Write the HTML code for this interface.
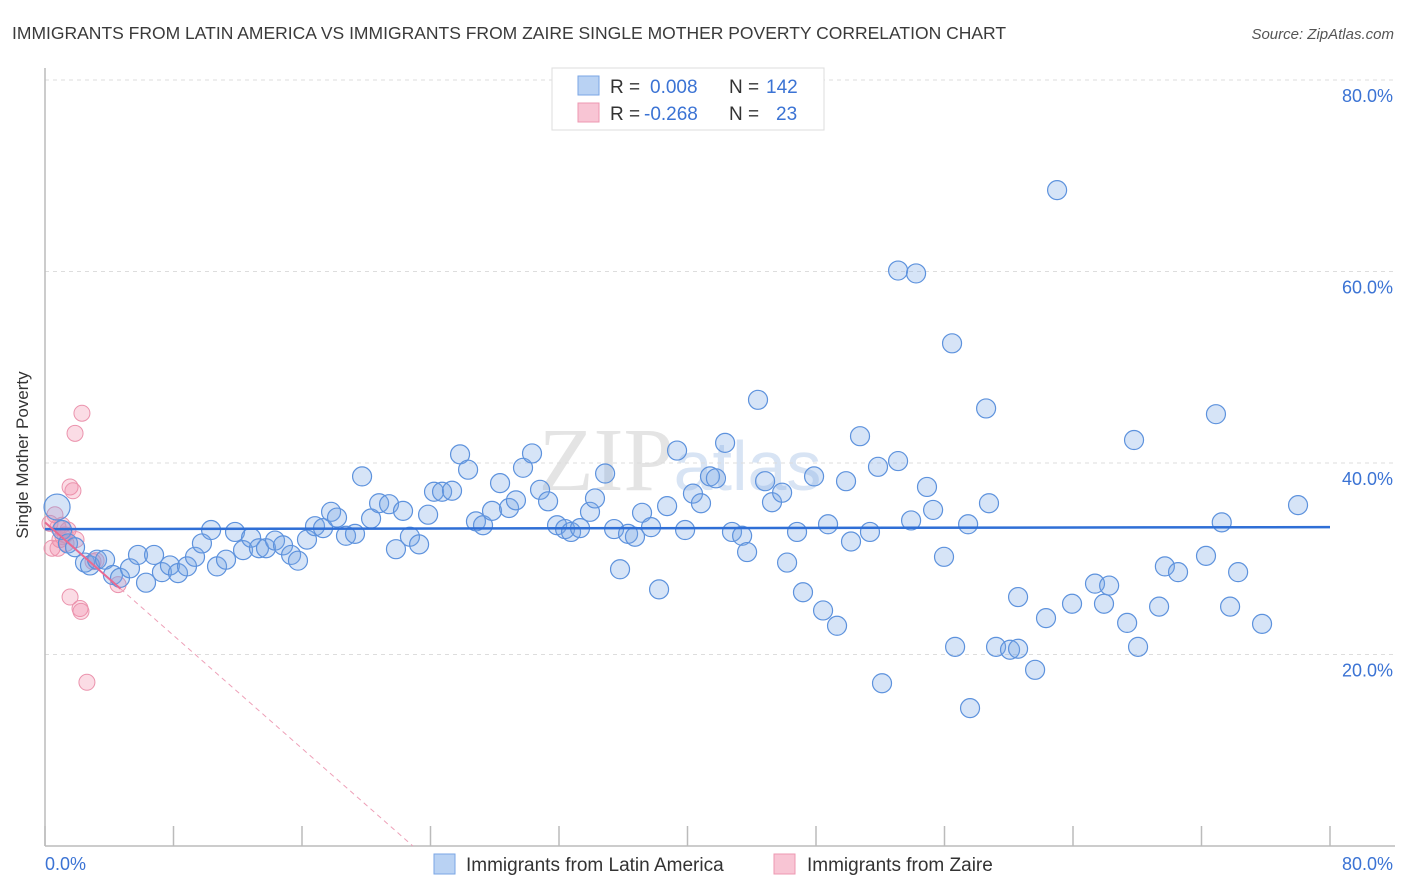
<!DOCTYPE html>
<html><head><meta charset="utf-8"><style>
body{margin:0;background:#fff;font-family:"Liberation Sans",sans-serif;}
#wrap{position:relative;width:1406px;height:892px;overflow:hidden;}
</style></head><body>
<div id="wrap">
<svg id="svg" width="1406" height="892" xmlns="http://www.w3.org/2000/svg">
<text x="12" y="39" font-size="17.5" fill="#3a3a3a">IMMIGRANTS FROM LATIN AMERICA VS IMMIGRANTS FROM ZAIRE SINGLE MOTHER POVERTY CORRELATION CHART</text>
<text x="1394" y="39" font-size="15" fill="#555" font-style="italic" text-anchor="end">Source: ZipAtlas.com</text>
<text x="680" y="490" font-size="90" fill="#e4e4e4" text-anchor="middle" font-family="Liberation Serif,serif">ZIP<tspan fill="#d8e4f4" font-family="Liberation Sans,sans-serif" font-size="70">atlas</tspan></text>
<g id="grid"></g>
<line x1="45" y1="68" x2="45" y2="846" stroke="#bbb" stroke-width="1.5"/>
<line x1="45" y1="846" x2="1395" y2="846" stroke="#bbb" stroke-width="1.5"/>
<g id="ticks"></g>
<text x="28" y="455" font-size="17" fill="#333" text-anchor="middle" transform="rotate(-90 28 455)">Single Mother Poverty</text>
<text x="45" y="870" font-size="18" fill="#3b73d4">0.0%</text>
<text x="1393" y="870" font-size="18" fill="#3b73d4" text-anchor="end">80.0%</text>
<g id="pink"></g><g id="blue"></g><g id="trend"></g>
<g>
<rect x="552" y="68" width="272" height="62" fill="#fff" stroke="#ddd"/>
<rect x="578" y="76" width="21" height="19" fill="#b9d2f3" stroke="#7aa6e4"/>
<rect x="578" y="103" width="21" height="19" fill="#f8c5d4" stroke="#ee98b2"/>
<text x="610" y="93" font-size="19" fill="#333">R = <tspan fill="#3b73d4" x="650">0.008</tspan><tspan x="729">N = </tspan><tspan fill="#3b73d4" x="766">142</tspan></text>
<text x="610" y="120" font-size="19" fill="#333">R = <tspan fill="#3b73d4" x="644">-0.268</tspan><tspan x="729">N = </tspan><tspan fill="#3b73d4" x="776">23</tspan></text>
</g>
<g>
<rect x="434" y="854" width="21" height="20" fill="#b9d2f3" stroke="#7aa6e4"/>
<text x="466" y="871" font-size="19" fill="#333">Immigrants from Latin America</text></g>
<g>
<rect x="774" y="854" width="21" height="20" fill="#f8c5d4" stroke="#ee98b2"/>
<text x="807" y="871" font-size="19" fill="#333">Immigrants from Zaire</text></g>
</svg>
</div>
<script>
const blueX=[0.75,1.06,1.43,1.87,2.49,2.80,3.24,3.74,4.23,4.67,5.29,5.79,6.29,6.79,7.28,7.78,8.28,8.84,9.34,9.77,10.34,10.71,11.27,11.83,12.33,12.83,13.32,13.76,14.32,14.82,15.32,15.75,16.31,16.81,17.31,17.81,18.18,18.74,19.30,19.74,20.30,20.80,21.42,21.85,22.29,22.72,23.29,23.85,24.22,24.72,25.34,25.84,26.34,26.83,27.27,27.83,28.33,28.89,29.32,29.76,30.32,30.82,31.32,31.88,32.38,32.75,33.31,33.93,34.24,34.87,35.43,35.80,36.30,36.73,37.17,37.73,38.23,38.73,39.35,39.85,40.34,40.84,41.40,41.77,42.34,42.77,43.40,43.71,44.39,44.83,45.26,45.89,46.20,46.82,47.19,47.88,48.44,48.75,49.31,49.87,50.18,50.74,51.36,51.86,52.11,53.11,53.11,53.92,54.23,54.91,55.29,55.97,56.47,56.66,57.47,57.59,58.59,58.77,59.21,60.08,60.58,60.58,61.64,62.32,63.01,63.94,65.37,65.93,66.25,67.37,67.80,68.05,69.36,69.72,70.54,72.28,72.90,73.26,73.78,74.28,75.77,78.01];
const blueY=[35.4,33.0,31.6,31.2,29.6,29.3,29.9,29.9,28.3,28.0,29.0,30.4,27.5,30.4,28.6,29.3,28.5,29.2,30.2,31.6,33.0,29.2,29.9,32.8,30.9,32.2,31.1,31.1,31.9,31.4,30.4,29.8,32.0,33.4,33.2,34.9,34.3,32.4,32.6,38.6,34.2,35.8,35.7,31.0,35.0,32.3,31.5,34.6,37.0,37.0,37.1,40.9,39.3,33.9,33.5,35.0,37.9,35.3,36.1,39.5,41.0,37.2,36.0,33.5,33.1,32.8,33.2,34.9,36.3,38.9,33.1,28.9,32.6,32.3,34.8,33.3,26.8,35.5,41.3,33.0,36.8,35.8,38.6,38.4,42.1,32.8,32.4,30.7,46.6,38.1,35.9,36.9,29.6,32.8,26.5,38.6,24.6,33.6,23.0,38.1,31.8,42.8,32.8,39.6,17.0,60.1,40.2,34.0,59.8,37.5,35.1,30.2,52.5,20.8,33.6,14.4,45.7,35.8,20.8,20.5,20.6,26.0,18.4,23.8,68.5,25.3,27.4,25.3,27.2,23.3,42.4,20.8,25.0,29.2,28.6,30.3,45.1,33.8,25.0,28.6,23.2,35.6];
const pinkX=[0.31,0.62,0.81,0.93,1.12,1.31,1.43,1.56,1.74,1.87,1.93,2.30,1.56,2.18,2.24,2.61,2.99,3.18,4.55,0.44,0.81,1.06,1.25];
const pinkY=[33.7,34.6,33.3,32.0,32.3,31.6,33.0,37.5,37.1,43.1,32.0,45.2,26.0,24.8,24.5,17.1,29.7,29.8,27.3,31.1,31.1,33.5,32.5];
const blueTrend=[33.1,33.3];
const pinkTrend=[33.8,-1.476];
const yTicks=[20,40,60,80];
const xTicks=[0,8,16,24,32,40,48,56,64,72,80];
const NS="http://www.w3.org/2000/svg";
const sx=v=>45+v/80*1285, sy=v=>846-v*9.575;
function mk(tag,parent,attrs){const e=document.createElementNS(NS,tag);for(const k in attrs)e.setAttribute(k,attrs[k]);document.getElementById(parent).appendChild(e);return e;}
yTicks.forEach(t=>{
 const l=mk('line','grid',{x1:45,x2:1395,y1:sy(t),y2:sy(t),stroke:'#ddd','stroke-dasharray':'4 4'});
 
 
 const tx=mk('text','grid',{x:1393,y:sy(t)+22,'font-size':18,fill:'#3b73d4','text-anchor':'end'});
 tx.textContent=t.toFixed(1)+'%';
 
 
});
xTicks.forEach(t=>{
 const l=mk('line','ticks',{x1:sx(t),x2:sx(t),y1:826,y2:846,stroke:'#bbb','stroke-width':1.5});
 
 
});
pinkX.forEach((x,i)=>{
 const c=mk('circle','pink',{cx:sx(x),cy:sy(pinkY[i]),r:8,fill:'rgba(242,140,170,0.3)',stroke:'#eb93ad','stroke-width':1});
 
 
});
blueX.forEach((x,i)=>{
 const c=mk('circle','blue',{cx:sx(x),cy:sy(blueY[i]),r:i===0?13:9.5,fill:'rgba(120,165,230,0.3)',stroke:'#5d92dd','stroke-width':1.2});
 
 
});
const bt=mk('line','trend',{x1:sx(0),x2:sx(80),y1:sy(blueTrend[0]),y2:sy(blueTrend[1]),stroke:'#2f6fd6','stroke-width':2.5});


const xEnd=-pinkTrend[0]/pinkTrend[1];
const ps=mk('line','trend',{x1:sx(0),x2:sx(4.7),y1:sy(pinkTrend[0]),y2:sy(pinkTrend[0]+pinkTrend[1]*4.7),stroke:'#e86a92','stroke-width':2});


const pd=mk('line','trend',{x1:sx(4.7),x2:sx(xEnd),y1:sy(pinkTrend[0]+pinkTrend[1]*4.7),y2:sy(0),stroke:'#eea0b8','stroke-width':1,'stroke-dasharray':'5 4'});


</script>
</body></html>
